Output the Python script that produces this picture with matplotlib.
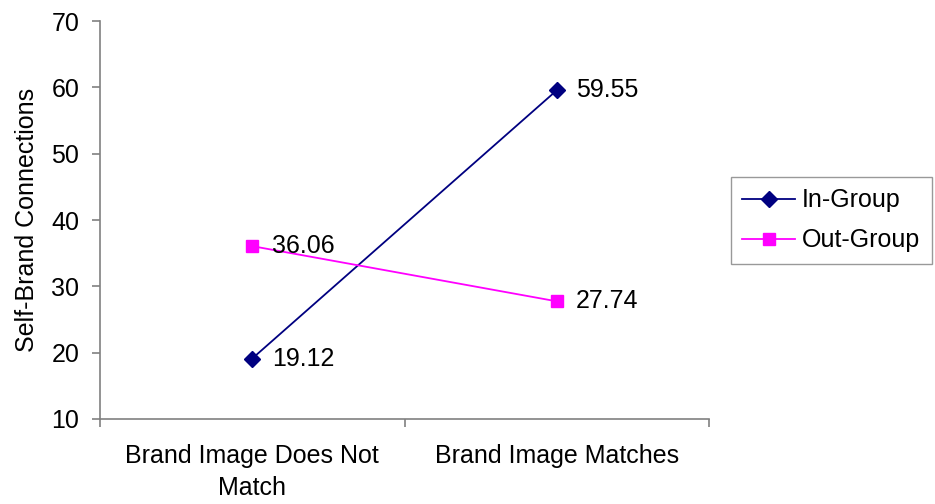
import matplotlib
matplotlib.use("Agg")
import matplotlib.pyplot as plt

categories = ["Brand Image Does Not\nMatch", "Brand Image Matches"]
in_group = [19.12, 59.55]
out_group = [36.06, 27.74]
series_names = ["In-Group", "Out-Group"]
yticks = [10, 20, 30, 40, 50, 60, 70]

plt.rcParams['font.family'] = ['Liberation Sans', 'DejaVu Sans']

FS = 18
fig = plt.figure(figsize=(9.35, 5.04), dpi=100)
ax = fig.add_axes([100/935, 1 - 419/504, 609/935, 398/504])

x = [0.5, 1.5]
l1, = ax.plot(x, in_group, color="#000080", marker="D", markersize=8.5, linewidth=1.3, label=series_names[0])
l2, = ax.plot(x, out_group, color="#FF00FF", marker="s", markersize=8, linewidth=1.3, label=series_names[1])

for vals in [in_group, out_group]:
    for xi, v in zip(x, vals):
        ax.annotate(f"{v:.2f}", (xi, v), xytext=(14, 0), textcoords="offset points",
                    va="center", ha="left", fontsize=FS)

ax.set_xlim(0, 2)
ax.set_ylim(10, 70)
ax.set_yticks(yticks)
ax.set_xticks([0, 1, 2])
ax.set_xticklabels([])
ax.set_xticks(x, minor=True)
ax.set_xticklabels(categories, minor=True, fontsize=FS, linespacing=1.4)
ax.tick_params(axis="x", which="minor", length=0, pad=18)
ax.tick_params(axis="x", which="major", length=6, color="#808080", width=1.2)
ax.tick_params(axis="y", length=6, color="#808080", width=1.2, labelsize=FS, pad=9)

for s in ["top", "right"]:
    ax.spines[s].set_visible(False)
for s in ["left", "bottom"]:
    ax.spines[s].set_color("#808080")
    ax.spines[s].set_linewidth(1.2)

ax.set_ylabel("Self-Brand Connections", fontsize=FS, labelpad=9)

leg = fig.legend(handles=[l1, l2], loc="upper left", bbox_to_anchor=(731/935, 1 - 177/504),
                 fontsize=FS, frameon=True, fancybox=False, edgecolor="#808080",
                 handlelength=2.1, borderpad=0.45, labelspacing=0.65, handletextpad=0.3,
                 borderaxespad=0)
leg.get_frame().set_linewidth(1.0)

fig.savefig("out.png", dpi=100)
